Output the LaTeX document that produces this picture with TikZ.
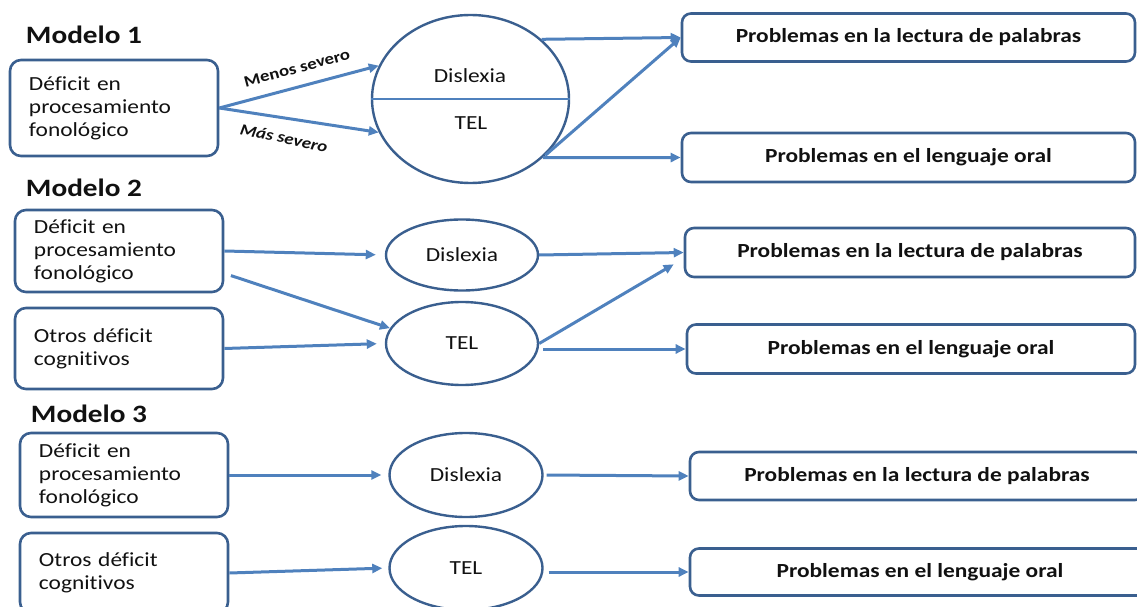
\documentclass[tikz,border=0pt]{standalone}
\usepackage{fontspec}
\setmainfont{Carlito}[FakeStretch=1.17, Ligatures=NoCommon]
\usetikzlibrary{arrows.meta,shapes.geometric,calc}
\definecolor{boxline}{HTML}{3A5F8F}
\definecolor{arrowblue}{HTML}{4F81BD}
\definecolor{ink}{HTML}{111111}

\begin{document}
\begin{tikzpicture}[x=1bp,y=-1bp,
  every node/.style={text=ink},
  inbox/.style={draw=boxline, line width=2.6bp, rounded corners=11bp, align=left,
    inner xsep=19bp, inner ysep=0pt, text width=170bp,
    font=\fontsize{20bp}{23bp}\selectfont},
  outbox/.style={draw=boxline, line width=2.6bp, rounded corners=9bp, inner sep=0pt,
    font=\fontsize{20bp}{23bp}\selectfont\bfseries},
  disorder/.style={draw=boxline, line width=2.4bp, ellipse, inner sep=0pt,
    font=\fontsize{20bp}{23bp}\selectfont},
  plain/.style={inner sep=0pt, font=\fontsize{20bp}{23bp}\selectfont},
  title/.style={inner sep=0pt, font=\fontsize{25bp}{28bp}\selectfont\bfseries},
  severity/.style={inner sep=0pt, font=\fontsize{16bp}{18bp}\selectfont\bfseries},
  link/.style={draw=arrowblue, line width=3bp, -{Triangle[length=10bp,width=9bp]}},
  ]
\useasboundingbox (0,0) rectangle (1137,607);
\clip (0,0) rectangle (1137,607);

% ---------------- Modelo 1 ----------------
\node[title] (m1) at (84,35) {Modelo 1};
\node[inbox, minimum height=96bp] (b1) at (114,108) {Déficit en\\procesamiento\\fonológico};
\node[disorder, minimum width=197bp, minimum height=168bp] (c1) at (470.5,99) {};
\draw[arrowblue, line width=2bp] (c1.west) -- (c1.east);
\node[plain] (dys1) at (470,76) {Dislexia};
\node[plain] (tel1) at (471,123) {TEL};
\node[outbox, minimum width=453bp, minimum height=48bp] (p1) at (908.5,37.5) {Problemas en la lectura de palabras};
\node[outbox, minimum width=453bp, minimum height=49bp] (o1) at (908.5,157.5) {Problemas en el lenguaje oral};

\draw[link] (b1.east) -- (c1.160);
\draw[link] (b1.east) -- (c1.200);
\node[severity, rotate=15] (menos) at (297,68) {Menos severo};
\node[severity, rotate=-12] (mas) at (284,138) {\itshape Más severo};

\draw[link] (c1.40) -- (p1.west);
\draw[link] (c1.-37) -- (p1.west);
\draw[link] (c1.-39) -- (o1.west);

% ---------------- Modelo 2 ----------------
\node[title] (m2) at (84,188) {Modelo 2};
\node[inbox, minimum height=82bp] (a2) at (119,251) {Déficit en\\procesamiento\\fonológico};
\node[inbox, minimum height=81bp] (b2) at (119,348.5) {Otros déficit\\cognitivos};
\node[disorder, minimum width=152bp, minimum height=71bp] (d2) at (462,255) {Dislexia};
\node[disorder, minimum width=152bp, minimum height=83bp] (t2) at (462,343.5) {TEL};
\node[outbox, minimum width=450bp, minimum height=49bp] (p2) at (910,252.5) {Problemas en la lectura de palabras};
\node[outbox, minimum width=448bp, minimum height=49bp] (o2) at (911,349) {Problemas en el lenguaje oral};

\draw[link, shorten >=9bp] (a2.east) -- (d2.west);
\draw[link, shorten <=7bp] (a2.-12) -- (t2.168);
\draw[link, shorten >=8bp] (b2.east) -- (t2.west);
\draw[link] (d2.east) -- (p2.west);
\draw[link] (t2.east) -- ($(p2.south west)+(-10,-14)$);
\draw[link, shorten <=4bp] (t2.east |- o2.west) -- (o2.west);

% ---------------- Modelo 3 ----------------
\node[title] (m3) at (89,414) {Modelo 3};
\node[inbox, minimum height=84bp] (a3) at (124,475) {Déficit en\\procesamiento\\fonológico};
\node[inbox, minimum height=80bp] (b3) at (124,573) {Otros déficit\\cognitivos};
\node[disorder, minimum width=153bp, minimum height=84bp] (d3) at (466,475) {Dislexia};
\node[disorder, minimum width=153bp, minimum height=84bp] (t3) at (466,568) {TEL};
\node[outbox, minimum width=454bp, minimum height=48bp] (p3) at (917,476) {Problemas en la lectura de palabras};
\node[outbox, minimum width=460bp, minimum height=47bp] (o3) at (920,572) {Problemas en el lenguaje oral};

\draw[link, shorten >=7bp] (a3.east) -- (d3.west);
\draw[link, shorten >=6bp] (b3.east) -- (t3.west);
\draw[link, shorten <=3bp] (d3.east) -- (p3.west);
\draw[link, shorten <=5bp] (t3.east |- o3.west) -- (o3.west);
\end{tikzpicture}
\end{document}
